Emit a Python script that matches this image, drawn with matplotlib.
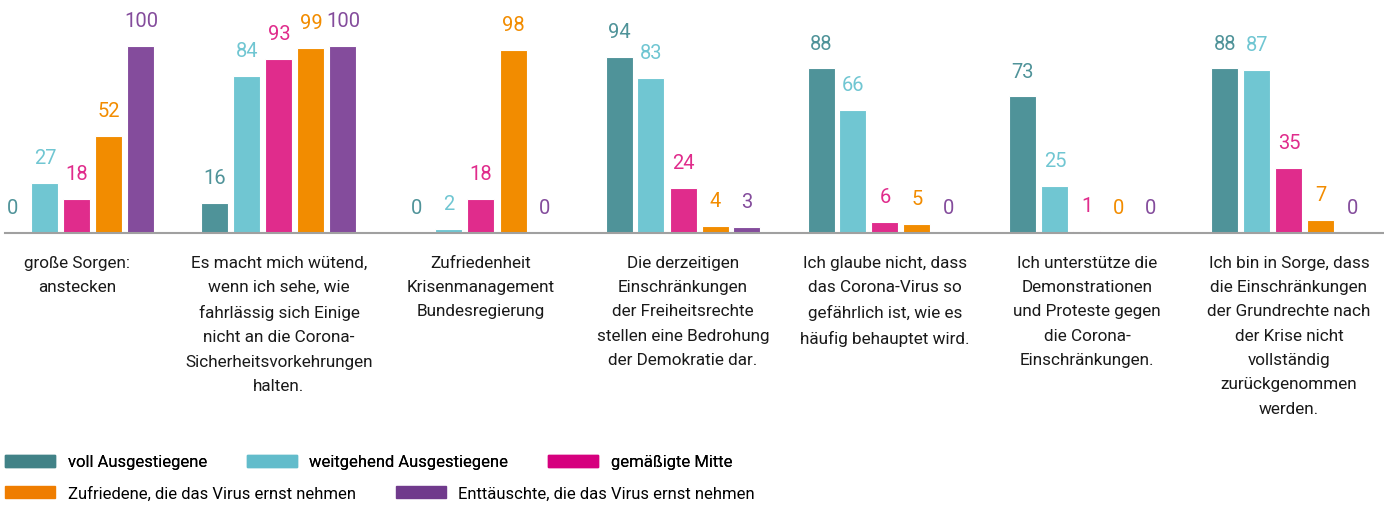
import numpy as np
import matplotlib.pyplot as plt
from matplotlib.patches import Patch

plt.rcParams['font.family'] = ['Roboto', 'DejaVu Sans']

categories = [
    "große Sorgen:\nanstecken",
    "Es macht mich wütend,\nwenn ich sehe, wie\nfahrlässig sich Einige\nnicht an die Corona-\nSicherheitsvorkehrungen\nhalten.",
    "Zufriedenheit\nKrisenmanagement\nBundesregierung",
    "Die derzeitigen\nEinschränkungen\nder Freiheitsrechte\nstellen eine Bedrohung\nder Demokratie dar.",
    "Ich glaube nicht, dass\ndas Corona-Virus so\ngefährlich ist, wie es\nhäufig behauptet wird.",
    "Ich unterstütze die\nDemonstrationen\nund Proteste gegen\ndie Corona-\nEinschränkungen.",
    "Ich bin in Sorge, dass\ndie Einschränkungen\nder Grundrechte nach\nder Krise nicht\nvollständig\nzurückgenommen\nwerden.",
]

series_names = [
    "voll Ausgestiegene",
    "weitgehend Ausgestiegene",
    "gemäßigte Mitte",
    "Zufriedene, die das Virus ernst nehmen",
    "Enttäuschte, die das Virus ernst nehmen",
]

voll = [0, 16, 0, 94, 88, 73, 88]
weitgehend = [27, 84, 2, 83, 66, 25, 87]
mitte = [18, 93, 18, 24, 6, 1, 35]
zufriedene = [52, 99, 98, 4, 5, 0, 7]
enttaeuschte = [100, 100, 0, 3, 0, 0, 0]

colors = ['#4f9399', '#70c6d2', '#e02c8c', '#f28c00', '#844c9c']
legend_colors = ['#418287', '#62bccb', '#d6007e', '#ef7d00', '#703a8c']

values = [voll, weitgehend, mitte, zufriedene, enttaeuschte]

fig = plt.figure(figsize=(13.84, 5.06), dpi=100)
ax = fig.add_axes([5 / 1384, 272 / 506, 1379 / 1384, 234 / 506])

x = np.arange(len(categories))
step = 32 / 202
width = 27 / 202

for i, (vals, col) in enumerate(zip(values, colors)):
    pos = x + (i - 2) * step
    ax.bar(pos, vals, width, color=col, edgecolor='white', linewidth=0.8)
    for p, v in zip(pos, vals):
        ax.text(p, v + 8.5, str(v), ha='center', va='bottom', fontsize=14.5, color=col)

ax.set_xlim(-72 / 202, 1307 / 202)
ax.set_ylim(0, 234 / 187 * 100)
for s in ['top', 'right', 'left']:
    ax.spines[s].set_visible(False)
ax.spines['bottom'].set_color('#a0a0a0')
ax.spines['bottom'].set_linewidth(1.5)
ax.set_yticks([])
ax.set_xticks([])

for xi, lab in zip(x, categories):
    ax.text(xi, -11.5, lab, ha='center', va='top', fontsize=12.3, color='#1a1a1a',
            linespacing=1.78)

handles = [Patch(color=c) for c in legend_colors]
leg_kw = dict(loc='center left', frameon=False, fontsize=12,
              handlelength=3.0, handleheight=0.72, handletextpad=0.75,
              columnspacing=2.4, borderpad=0, borderaxespad=0)
leg1 = fig.legend(handles[:3], series_names[:3], ncol=3,
                  bbox_to_anchor=(5 / 1384, 1 - 463 / 506), **leg_kw)
fig.add_artist(leg1)
fig.legend(handles[3:], series_names[3:], ncol=2,
           bbox_to_anchor=(5 / 1384, 1 - 494 / 506), **leg_kw)

fig.savefig('out.png', dpi=100)
